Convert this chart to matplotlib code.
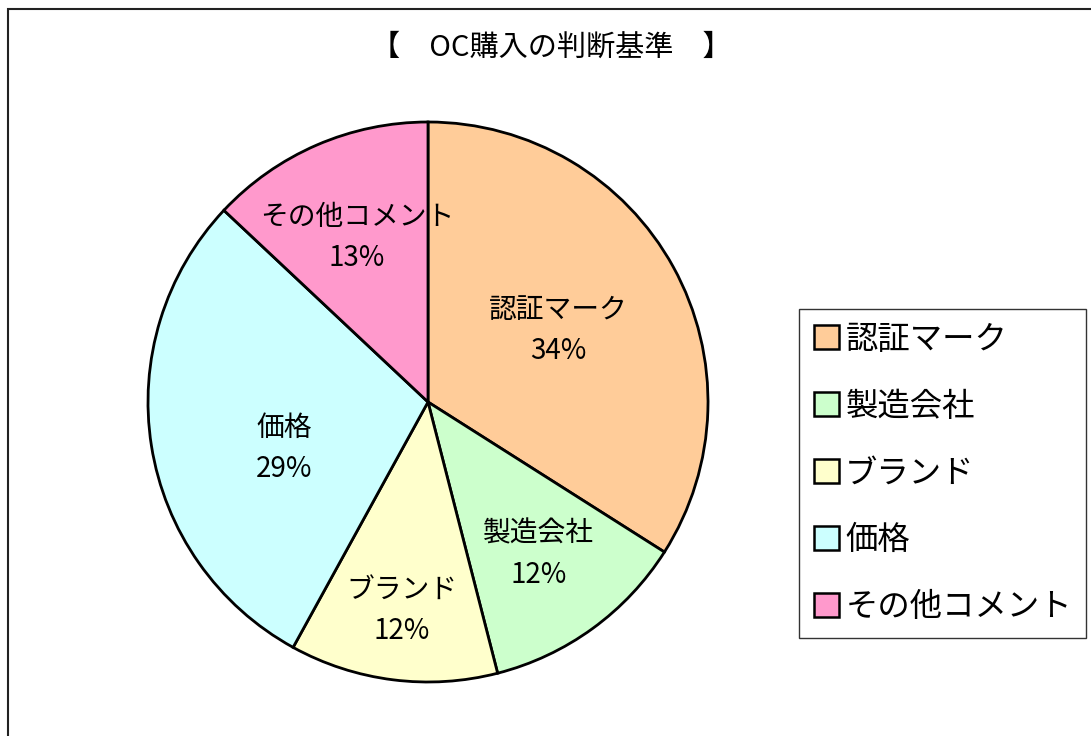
import matplotlib
matplotlib.use("Agg")
import matplotlib.pyplot as plt
from matplotlib.patches import Rectangle
import numpy as np

plt.rcParams['font.family'] = ['Noto Sans CJK JP', 'DejaVu Sans']

# data
labels = ["認証マーク", "製造会社", "ブランド", "価格", "その他コメント"]
shares = [34, 12, 12, 29, 13]
colors = ["#FFCC99", "#CCFFCC", "#FFFFCC", "#CCFFFF", "#FF99CC"]
title = "【　OC購入の判断基準　】"

# label placement: distance from centre (fraction of radius) and angle shift (deg)
label_r = [0.53, 0.67, 0.75, 0.54, 0.64]
label_dt = [0, 0, 0, 9, 0]

W, H = 1091, 736
fig = plt.figure(figsize=(W / 100, H / 100), dpi=100)

# outer chart frame (right/bottom edges run off the picture)
fig.patches.append(Rectangle((8 / W, -0.05), 1.1, 1.05 - 9 / H, transform=fig.transFigure,
                             fill=False, edgecolor="#222222", linewidth=1.5))

cx, cy, r = 428, 402, 280
ax = fig.add_axes([(cx - r) / W, (H - cy - r) / H, 2 * r / W, 2 * r / H])
wedges, texts, autotexts = ax.pie(
    shares, colors=colors, startangle=90, counterclock=False, radius=1,
    autopct="%d%%", pctdistance=0.6,
    wedgeprops=dict(edgecolor="black", linewidth=2.0))
ax.set_xlim(-1, 1)
ax.set_ylim(-1, 1)
ax.set_aspect("equal")
ax.axis("off")

for w, t, lab, d, dt in zip(wedges, autotexts, labels, label_r, label_dt):
    mid = np.deg2rad((w.theta1 + w.theta2) / 2 + dt)
    t.set_position((d * np.cos(mid), d * np.sin(mid)))
    t.set_text(lab + "\n" + t.get_text())
    t.set_fontsize(20)
    t.set_linespacing(1.5)
    t.set_ha("center")
    t.set_va("center")

fig.text(551 / W, 1 - 48 / H, title, ha="center", va="center", fontsize=21)

leg = fig.legend(wedges, labels, loc="upper left",
                 bbox_to_anchor=(799 / W, 1 - 309 / H), bbox_transform=fig.transFigure,
                 fontsize=23.3, frameon=True, fancybox=False, framealpha=1,
                 handlelength=0.78, handleheight=0.78, handletextpad=0.2,
                 labelspacing=1.08, borderpad=0.45, borderaxespad=0)
leg.get_frame().set_edgecolor("#333333")
leg.get_frame().set_linewidth(1.0)
for h in leg.legend_handles:
    h.set_linewidth(1.8)

fig.savefig("out.png", dpi=100)
